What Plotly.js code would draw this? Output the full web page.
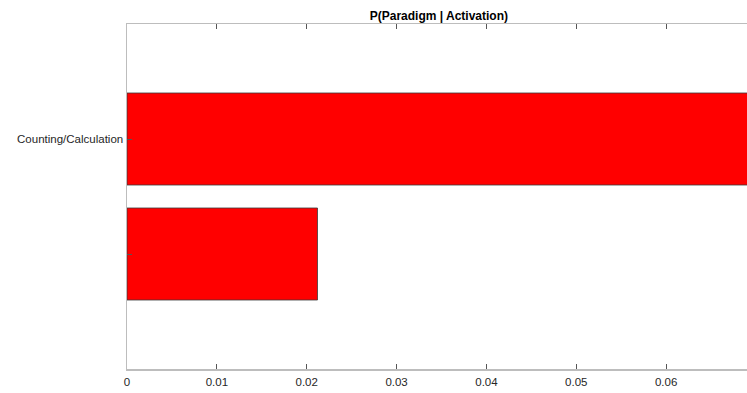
<!DOCTYPE html>
<html>
<head>
<meta charset="utf-8">
<script src="https://cdn.plot.ly/plotly-3.0.1.min.js"></script>
<style>html,body{margin:0;padding:0;background:#fff;}#chart{width:747px;height:393px;}</style>
</head>
<body>
<div id="chart"></div>
<script>
// Data
const positions = [1, 2];
const probabilities = [0.0212, 0.085];
const categoryLabels = ["", "Counting/Calculation"];
const xTicks = [0, 0.01, 0.02, 0.03, 0.04, 0.05, 0.06];
const xTickLabels = ["0", "0.01", "0.02", "0.03", "0.04", "0.05", "0.06"];
const chartTitle = "P(Paradigm | Activation)";

const trace = {
  type: 'bar',
  orientation: 'h',
  x: probabilities,
  y: positions,
  width: 0.8,
  marker: {color: '#ff0000', line: {color: '#3a3a3a', width: 0.8}},
  hoverinfo: 'skip'
};

const font = {family: 'Liberation Sans, Arial, sans-serif', size: 11.5, color: '#262626'};

const layout = {
  width: 747, height: 393,
  margin: {l: 127, r: 0, t: 24, b: 24, pad: 0},
  paper_bgcolor: '#fff', plot_bgcolor: '#fff',
  showlegend: false,
  font: font,
  title: {text: chartTitle, x: 0.5875, xanchor: 'center', yref: 'container', y: 0.959, yanchor: 'middle',
          font: {family: 'Liberation Sans, Arial, sans-serif', size: 12, color: '#000', weight: 'bold'}},
  xaxis: {
    range: [0, 0.069], tickvals: xTicks, ticktext: xTickLabels,
    ticks: 'inside', ticklen: 5, tickcolor: '#555', tickwidth: 1,
    showline: true, linecolor: '#bdbdbd', linewidth: 1.5, mirror: 'ticks',
    showgrid: false, zeroline: false, tickfont: font, ticklabelstandoff: 2
  },
  yaxis: {
    range: [0, 3], tickvals: positions, ticktext: categoryLabels,
    ticks: 'inside', ticklen: 5, tickcolor: '#555', tickwidth: 1,
    showline: true, linecolor: '#bdbdbd', linewidth: 1.5,
    showgrid: false, zeroline: false, tickfont: font
  }
};

Plotly.newPlot('chart', [trace], layout, {staticPlot: true, displayModeBar: false});
</script>
</body>
</html>
